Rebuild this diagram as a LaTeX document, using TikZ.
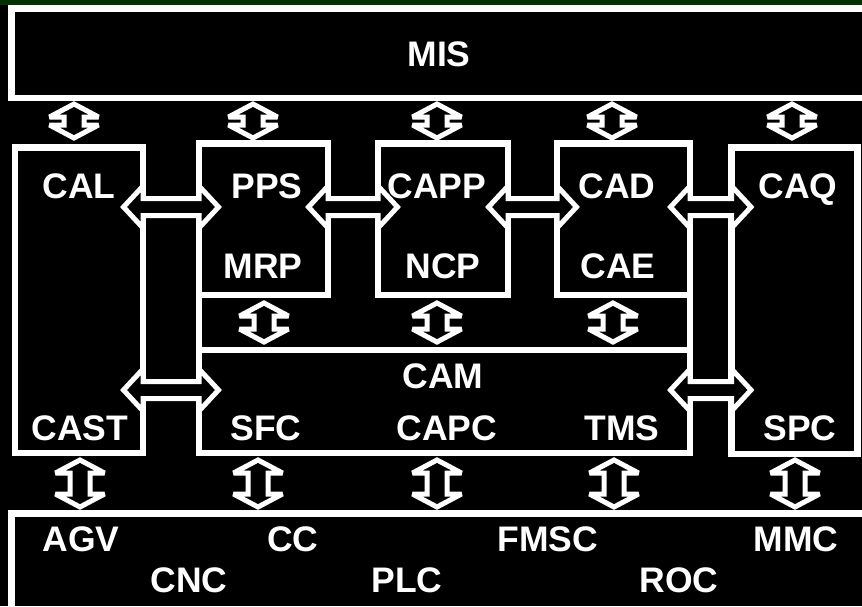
\documentclass[tikz,border=0pt]{standalone}
\usepackage{fontspec}
\setmainfont{Liberation Sans}
\usetikzlibrary{fit}
\definecolor{topgreen}{RGB}{0,51,0}
\newcommand\VArrow[3]{%
 \draw[blockarrow] (#1,#2) -- ({#1+24.5},{#2+13}) -- ({#1+10},{#2+13}) -- ({#1+10},{#3-13}) -- ({#1+24.5},{#3-13}) -- (#1,#3) -- ({#1-24.5},{#3-13}) -- ({#1-10},{#3-13}) -- ({#1-10},{#2+13}) -- ({#1-24.5},{#2+13}) -- cycle;}
\newcommand\HArrow[3]{%
 \draw[blockarrow] ({#1-19.5},#3) -- (#1,{#3-21}) -- (#1,{#3-8.5}) -- (#2,{#3-8.5}) -- (#2,{#3-21}) -- ({#2+19.5},#3) -- (#2,{#3+21}) -- (#2,{#3+8.5}) -- (#1,{#3+8.5}) -- (#1,{#3+21}) -- cycle;}
\begin{document}
\begin{tikzpicture}[x=1pt,y=-1pt,
 box/.style={draw=white, line width=6.5pt, inner sep=0pt, outer sep=0pt},
 link/.style={draw=white, line width=6.5pt},
 blockarrow/.style={draw=white, fill=black, line width=5pt, line join=miter, miter limit=2.5},
 lbl/.style={text=white, font=\bfseries\fontsize{35.5}{40}\selectfont, inner sep=0pt, anchor=base}]
\clip (0,0) rectangle (862,606);
\fill[black] (0,0) rectangle (862,606);
\fill[topgreen] (0,0) rectangle (862,5);
% boxes
\node[box, fit={(11.5,8.5)(900,98)}] (mis) {};
\node[box, fit={(15,147.5)(143,453)}] (cal) {};
\node[box, fit={(199,143.5)(328,295)}] (pps) {};
\node[box, fit={(378,143.5)(508,295)}] (capp) {};
\node[box, fit={(557,143.5)(690,295)}] (cad) {};
\node[box, fit={(731.5,147.5)(857.5,454)}] (caq) {};
\node[box, fit={(199,350)(690,453)}] (cam) {};
\node[box, fit={(11.5,513.5)(900,650)}] (shop) {};
\draw[link] (pps.south west) -- (cam.north west);
\draw[link] (cad.south east) -- (cam.north east);
% vertical block arrows
\foreach \x in {74,253,437,612,792} {\VArrow{\x}{104}{138}}
\foreach \x in {264,437,613} {\VArrow{\x}{303}{342}}
\foreach \x in {80,258,437,614,795} {\VArrow{\x}{460}{507}}
% horizontal block arrows
\HArrow{143}{199}{207}
\HArrow{328}{378}{207}
\HArrow{508}{557}{207}
\HArrow{690}{731.5}{207}
\HArrow{143}{199}{390}
\HArrow{690}{731.5}{390}
% labels
\node[lbl] (tmis) at (439,66) {MIS};
\node[lbl] (tcal) at (79,198) {CAL};
\node[lbl] (tpps) at (267,198) {PPS};
\node[lbl] (tcapp) at (437,198) {CAPP};
\node[lbl] (tcad) at (617,198) {CAD};
\node[lbl] (tcaq) at (798,198) {CAQ};
\node[lbl] (tmrp) at (263,278) {MRP};
\node[lbl] (tncp) at (443,278) {NCP};
\node[lbl] (tcae) at (618,278) {CAE};
\node[lbl] (tcam) at (443,388) {CAM};
\node[lbl] (tcast) at (80,440) {CAST};
\node[lbl] (tsfc) at (266,440) {SFC};
\node[lbl] (tcapc) at (447,440) {CAPC};
\node[lbl] (ttms) at (622,440) {TMS};
\node[lbl] (tspc) at (800,440) {SPC};
\node[lbl] (tagv) at (81,551) {AGV};
\node[lbl] (tcc) at (293,551) {CC};
\node[lbl] (tfmsc) at (548,551) {FMSC};
\node[lbl] (tmmc) at (796,551) {MMC};
\node[lbl] (tcnc) at (189,592) {CNC};
\node[lbl] (tplc) at (407,592) {PLC};
\node[lbl] (troc) at (679,592) {ROC};
\end{tikzpicture}
\end{document}
